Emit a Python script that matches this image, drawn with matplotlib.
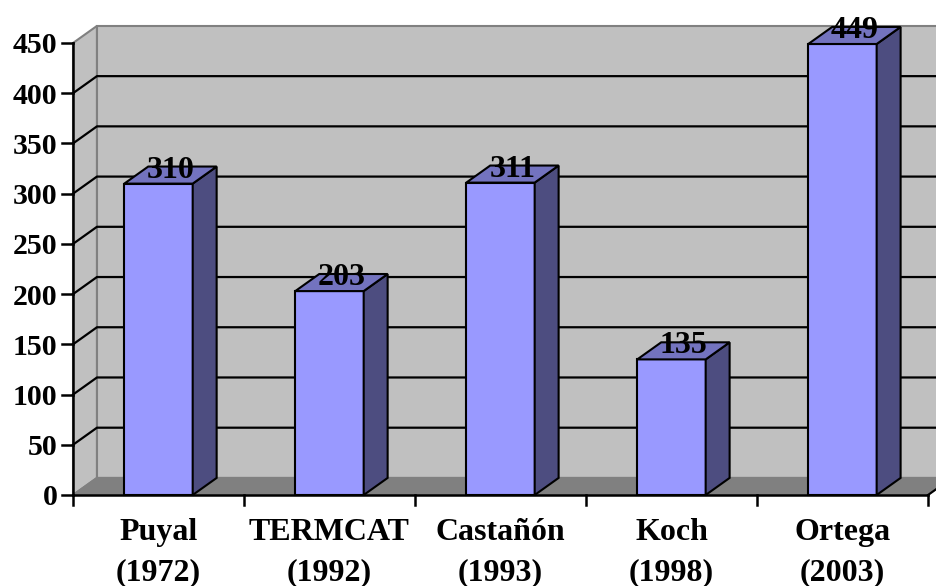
"""
Número de términos por autor: columnas con efecto 3D
"""
import numpy as np

import matplotlib.pyplot as plt

from matplotlib.patches import Polygon


# datos
nombres = ['Puyal', 'TERMCAT', 'Castañón', 'Koch', 'Ortega']

anios = ['(1972)', '(1992)', '(1993)', '(1998)', '(2003)']

valores = [310, 203, 311, 135, 449]

marcas_y = list(range(0, 451, 50))


# profundidad del efecto 3D (en unidades de categoría / de valor)
px = 0.14
py = 17

ancho = 0.4

gris_pared = '#c0c0c0'
gris_borde = '#808080'
fuente = dict(family='Liberation Serif', fontweight='bold')


fig = plt.figure(figsize=(9.36, 5.86), dpi=100)

ax = fig.add_axes([0, 0, 1, 1])

ax.set_xlim(-0.927, 4.547)

ax.set_ylim(-90.6, 492.8)

ax.axis('off')

n = len(valores)
x0, x1 = -0.5, n - 0.5
ymax = marcas_y[-1]

# paredes y suelo
ax.add_patch(Polygon([(x0, 0), (x0, ymax), (x0 + px, ymax + py), (x0 + px, py)],
                     fc=gris_pared, ec=gris_borde, lw=1.5, zorder=0))

ax.add_patch(Polygon([(x0 + px, py), (x0 + px, ymax + py), (x1 + px, ymax + py), (x1 + px, py)],
                     fc=gris_pared, ec=gris_borde, lw=1.5, zorder=0))

ax.add_patch(Polygon([(x0, 0), (x1, 0), (x1 + px, py), (x0 + px, py)],
                     fc=gris_borde, ec=gris_borde, lw=1.5, zorder=1))

# líneas de división
for v in marcas_y[1:-1]:

    ax.plot([x0, x0 + px, x1 + px], [v, v + py, v + py], c='k', lw=1.6, zorder=1)

# columnas: cara frontal, lateral y superior
x = np.arange(n)

ax.bar(x, valores, width=ancho, color='#9999ff', edgecolor='k', lw=1.5, zorder=3)

for xi, v in zip(x, valores):

    d = xi + ancho / 2
    i = xi - ancho / 2

    ax.add_patch(Polygon([(d, 0), (d, v), (d + px, v + py), (d + px, py)],
                         fc='#4d4d80', ec='k', lw=1.5, zorder=3))

    ax.add_patch(Polygon([(i, v), (d, v), (d + px, v + py), (i + px, v + py)],
                         fc='#7373bf', ec='k', lw=1.5, zorder=3))

    ax.text(xi + px / 2, v + py, str(v), ha='center', va='center_baseline',
            fontsize=23, zorder=5, **fuente)

# ejes
ax.plot([x0, x1], [0, 0], c='k', lw=1.8, zorder=4)

ax.plot([x0, x0], [0, ymax], c='k', lw=1.8, zorder=4)

ax.plot([x1, x1 + px], [0, py], c='k', lw=1.5, zorder=4)

for v in marcas_y:

    ax.plot([x0 - 0.065, x0], [v, v], c='k', lw=1.8, zorder=4)

    ax.text(x0 - 0.09, v, str(v), ha='right', va='center_baseline', fontsize=21.5, **fuente)

for b in np.arange(x0, x1 + 0.01, 1):

    ax.plot([b, b], [0, -10], c='k', lw=1.8, zorder=4)

# etiquetas de categoría en dos líneas
for xi, nombre, anio in zip(x, nombres, anios):

    ax.text(xi, -44.8, nombre, ha='center', va='baseline', fontsize=23, **fuente)

    ax.text(xi, -84.6, anio, ha='center', va='baseline', fontsize=23, **fuente)

plt.savefig('out.png', dpi=100)
